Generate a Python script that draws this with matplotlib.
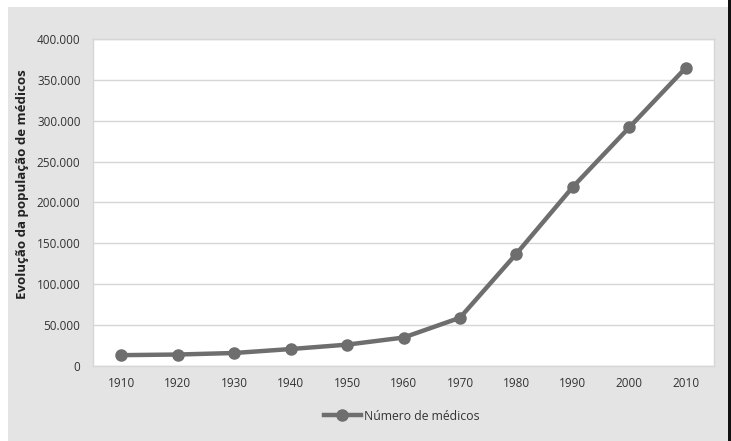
import matplotlib
matplotlib.use("Agg")
import matplotlib.pyplot as plt
from matplotlib.patches import Rectangle
from matplotlib.lines import Line2D

years = ["1910", "1920", "1930", "1940", "1950", "1960", "1970", "1980", "1990", "2000", "2010"]
medicos = [13270, 14031, 15899, 20745, 26120, 34792, 58994, 137347, 219084, 291926, 364757]
yticks = [0, 50000, 100000, 150000, 200000, 250000, 300000, 350000, 400000]
ytick_labels = ["0", "50.000", "100.000", "150.000", "200.000", "250.000", "300.000", "350.000", "400.000"]
ylabel = "Evolução da população de médicos"
legend_label = "Número de médicos"

plt.rcParams['font.family'] = ['Open Sans', 'DejaVu Sans']

W, H = 731, 441
fig = plt.figure(figsize=(W / 100, H / 100), dpi=100, facecolor="white")

# outer gray panel and dark right edge
fig.patches.append(Rectangle((8 / W, 0), (728 - 8) / W, (H - 7) / H,
                             transform=fig.transFigure, facecolor="#e4e4e4",
                             edgecolor="none", zorder=-2))
fig.patches.append(Rectangle((728 / W, 0), 3 / W, 1,
                             transform=fig.transFigure, facecolor="#111111",
                             edgecolor="none", zorder=-2))

left, right, top, bottom = 93, 714, 39, 366
ax = fig.add_axes([left / W, (H - bottom) / H, (right - left) / W, (bottom - top) / H])
ax.set_zorder(1)
ax.set_facecolor("white")

x = list(range(len(years)))
color = "#6e6e6e"
ax.plot(x, medicos, color=color, linewidth=3.2, marker="o", markersize=8,
        markerfacecolor=color, markeredgecolor=color, zorder=3,
        solid_capstyle="round")

ax.set_xlim(-0.5, len(years) - 0.5)
ax.set_ylim(0, 400000)
ax.set_yticks(yticks)
ax.set_yticklabels(ytick_labels)
ax.set_xticks(x)
ax.set_xticklabels(years)
ax.tick_params(axis="both", length=0, labelsize=8.5, colors="#333333")
ax.tick_params(axis="y", pad=9)
ax.tick_params(axis="x", pad=8)
ax.grid(axis="y", color="#d6d6d6", linewidth=1.0)
ax.set_axisbelow(True)
for s in ax.spines.values():
    s.set_color("#d6d6d6")
    s.set_linewidth(1.0)

fig.text(23 / W, (H - 184) / H, ylabel, rotation=90, ha="center", va="center",
         fontsize=9.5, fontweight="bold", color="#222222")

handle = Line2D([0], [0], color=color, linewidth=3.2, marker="o", markersize=8,
                markerfacecolor=color, markeredgecolor=color)
fig.legend([handle], [legend_label], loc="center", bbox_to_anchor=(402 / W, (H - 416) / H),
           frameon=False, fontsize=8.8, handlelength=3.0, handletextpad=0.3,
           labelcolor="#333333")

fig.savefig("out.png", dpi=100, facecolor="white")
